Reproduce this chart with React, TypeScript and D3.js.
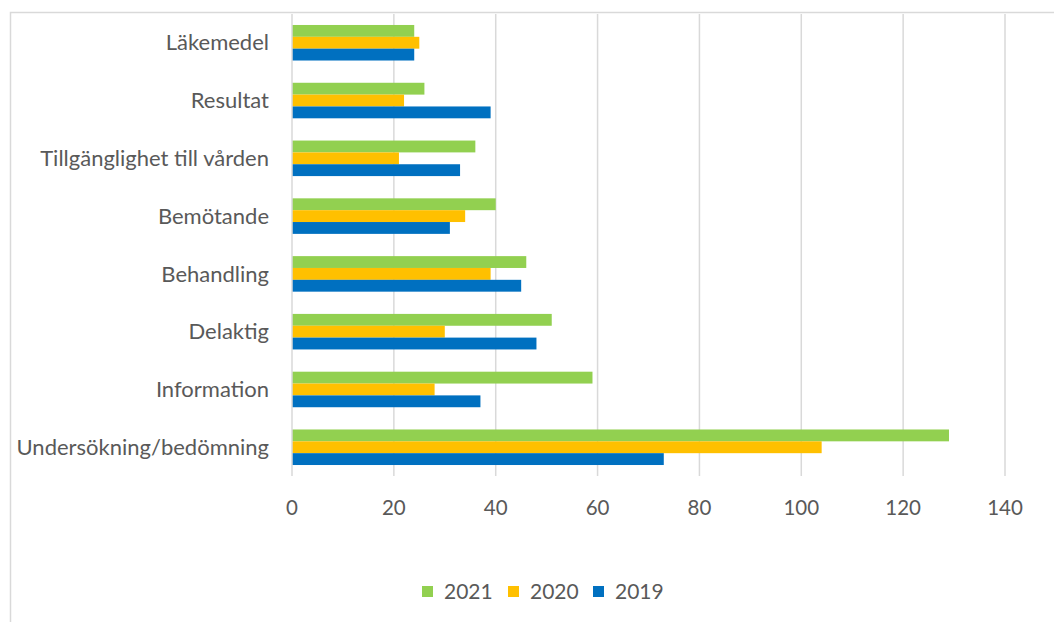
import React, { useRef, useEffect } from "react";
import * as d3 from "d3";

// categories, top to bottom
const categories = [
  "Läkemedel",
  "Resultat",
  "Tillgänglighet till vården",
  "Bemötande",
  "Behandling",
  "Delaktig",
  "Information",
  "Undersökning/bedömning",
];

const values2021 = [24, 26, 36, 40, 46, 51, 59, 129];
const values2020 = [25, 22, 21, 34, 39, 30, 28, 104];
const values2019 = [24, 39, 33, 31, 45, 48, 37, 73];

const seriesNames = ["2021", "2020", "2019"];
const seriesColors = ["#92D050", "#FFC000", "#0070C0"];
const xTicks = [0, 20, 40, 60, 80, 100, 120, 140];

const FONT = "Lato, 'Open Sans', sans-serif";

const App: React.FC = () => {
  const svgRef = useRef<SVGSVGElement>(null);

  useEffect(() => {
    const width = 1054;
    const height = 622;
    const svg = d3.select(svgRef.current);
    svg.selectAll("*").remove();

    // chart frame
    svg
      .append("rect")
      .attr("x", 10.5)
      .attr("y", 12.5)
      .attr("width", width + 20)
      .attr("height", height + 20)
      .attr("fill", "white")
      .attr("stroke", "#d9d9d9")
      .attr("stroke-width", 1.5);

    const left = 292;
    const top = 14;
    const plotW = 1005 - left;
    const plotH = 476 - top;

    const x = d3.scaleLinear().domain([0, 140]).range([left, left + plotW]);
    const y = d3
      .scaleBand<string>()
      .domain(categories)
      .range([top, top + plotH])
      .paddingInner(0.385)
      .paddingOuter(0.19);
    const inner = d3
      .scaleBand<string>()
      .domain(seriesNames)
      .range([0, y.bandwidth()]);

    // gridlines
    svg
      .append("g")
      .selectAll("line")
      .data(xTicks.slice(1))
      .enter()
      .append("line")
      .attr("x1", (d) => x(d))
      .attr("x2", (d) => x(d))
      .attr("y1", top)
      .attr("y2", top + plotH)
      .attr("stroke", "#d9d9d9")
      .attr("stroke-width", 1.5);

    // tick labels
    svg
      .append("g")
      .selectAll("text")
      .data(xTicks)
      .enter()
      .append("text")
      .attr("x", (d) => x(d))
      .attr("y", 515)
      .attr("text-anchor", "middle")
      .attr("font-family", FONT)
      .attr("font-size", 20.5)
      .attr("fill", "#595959")
      .text((d) => d);

    const series = [values2021, values2020, values2019];

    // bars
    series.forEach((vals, si) => {
      svg
        .append("g")
        .selectAll("rect")
        .data(vals)
        .enter()
        .append("rect")
        .attr("x", x(0))
        .attr("y", (_d, i) => (y(categories[i]) as number) + (inner(seriesNames[si]) as number))
        .attr("width", (d) => x(d) - x(0))
        .attr("height", inner.bandwidth())
        .attr("fill", seriesColors[si]);
    });

    // axis line
    svg
      .append("line")
      .attr("x1", x(0))
      .attr("x2", x(0))
      .attr("y1", top)
      .attr("y2", top + plotH)
      .attr("stroke", "#d9d9d9")
      .attr("stroke-width", 1.5);

    // category labels
    svg
      .append("g")
      .selectAll("text")
      .data(categories)
      .enter()
      .append("text")
      .attr("x", 269)
      .attr("y", (d) => (y(d) as number) + y.bandwidth() / 2)
      .attr("dy", "0.35em")
      .attr("text-anchor", "end")
      .attr("font-family", FONT)
      .attr("font-size", 22)
      .attr("fill", "#595959")
      .text((d) => d);

    // legend
    const legendX = [422, 508, 593];
    const lg = svg
      .append("g")
      .selectAll("g")
      .data(seriesNames)
      .enter()
      .append("g")
      .attr("transform", (_d, i) => `translate(${legendX[i]},586)`);
    lg.append("rect")
      .attr("width", 11)
      .attr("height", 11)
      .attr("fill", (_d, i) => seriesColors[i]);
    lg.append("text")
      .attr("x", 22)
      .attr("y", 5.5)
      .attr("dy", "0.35em")
      .attr("font-family", FONT)
      .attr("font-size", 21)
      .attr("fill", "#595959")
      .text((d) => d);
  }, []);

  return (
    <svg
      ref={svgRef}
      width={1054}
      height={622}
      style={{ position: "absolute", left: 0, top: 0, background: "white" }}
    ></svg>
  );
};

export default App;
